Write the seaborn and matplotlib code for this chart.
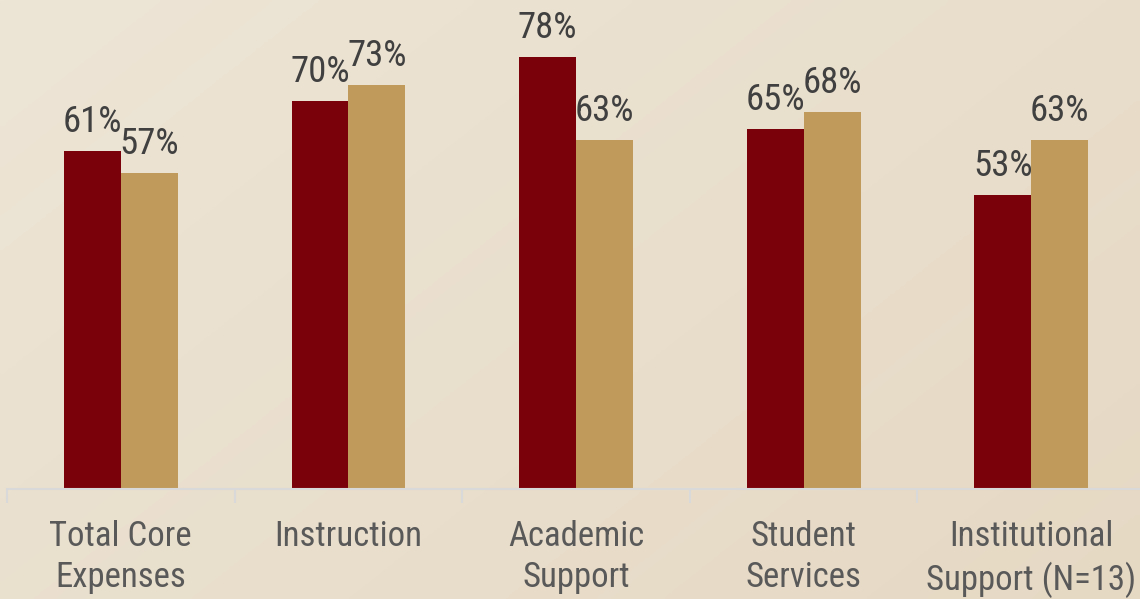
import numpy as np
import pandas as pd
import seaborn as sns
import matplotlib.pyplot as plt
from matplotlib import font_manager

# --- data ---
categories = ['Total Core\nExpenses', 'Instruction', 'Academic\nSupport',
              'Student\nServices', 'Institutional\nSupport (N=13)']
series_a = [61, 70, 78, 65, 53]
series_b = [57, 73, 63, 68, 63]
series_names = ['Series 1', 'Series 2']

df = pd.DataFrame({
    'Category': categories * 2,
    'Value': series_a + series_b,
    'Series': [series_names[0]] * 5 + [series_names[1]] * 5,
})

# prefer a condensed face if one is around
names = {f.name for f in font_manager.fontManager.ttflist}
narrow = [n for n in ['Liberation Sans Narrow', 'Roboto Condensed',
                      'Arial Narrow', 'Open Sans Condensed'] if n in names]
fam = narrow[0] if narrow else 'Liberation Sans'
scale = 1.0 if narrow else 0.85

sns.set_theme(style='white')
plt.rcParams['font.family'] = [fam, 'DejaVu Sans']

fig = plt.figure(figsize=(11.4, 5.99), dpi=100)

# background gradient
bg = fig.add_axes([0, 0, 1, 1], zorder=0)
xx, yy = np.meshgrid(np.linspace(0, 1, 200), np.linspace(0, 1, 200))
t = (xx * 0.6 + yy * 0.4)
c0 = np.array([237, 229, 214]) / 255
c1 = np.array([230, 217, 196]) / 255
img = c0[None, None, :] * (1 - t[..., None]) + c1[None, None, :] * t[..., None]
bg.imshow(img, aspect='auto', extent=[0, 1, 0, 1], origin='upper')
bg.axis('off')

ax = fig.add_axes([7 / 1140, 110 / 599, 1138 / 1140, 489 / 599], zorder=1)
ax.patch.set_alpha(0)

sns.barplot(data=df, x='Category', y='Value', hue='Series',
            palette=['#7A000A', '#C09A5B'], width=0.5, saturation=1,
            linewidth=0, legend=False, ax=ax)

ax.set_xlim(-0.5, 4.5)
ax.set_ylim(0, 88.3)

for cont in ax.containers:
    ax.bar_label(cont, labels=[f'{v:.0f}%' for v in cont.datavalues],
                 padding=8, fontsize=26.5 * scale, color='#404040')

for s in ['top', 'right', 'left']:
    ax.spines[s].set_visible(False)
ax.spines['bottom'].set_color('#D9D9D9')
ax.spines['bottom'].set_linewidth(1.5)
ax.set_yticks([])
ax.set_xticks(np.arange(-0.5, 5, 1), minor=True)
ax.tick_params(axis='x', which='minor', length=10, width=1.5, color='#D9D9D9',
               direction='out', bottom=True)
ax.tick_params(axis='x', which='major', length=0, pad=22, labelsize=25 * scale,
               labelcolor='#595959')
for lbl in ax.get_xticklabels():
    lbl.set_linespacing(1.32)
ax.set_xlabel('')
ax.set_ylabel('')

fig.savefig('out.png', dpi=100)
